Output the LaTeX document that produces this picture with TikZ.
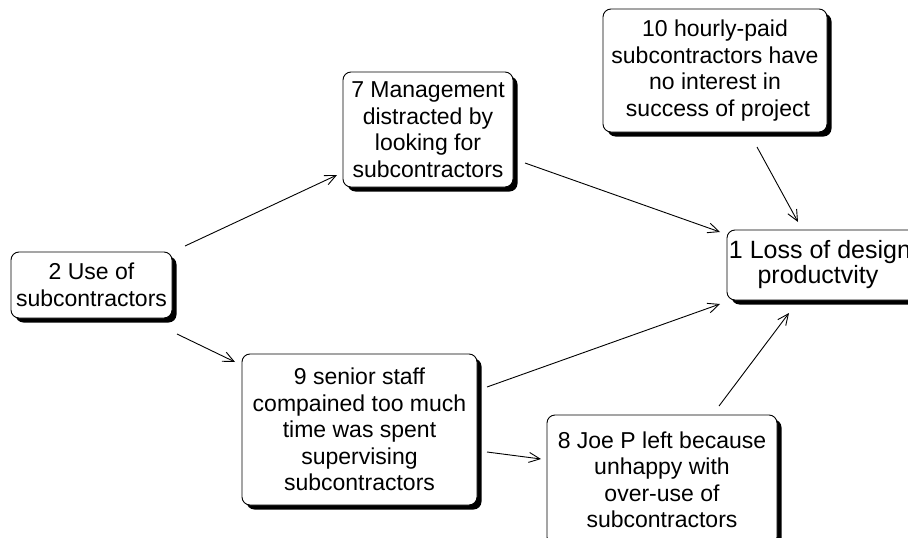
\documentclass[tikz,border=0pt]{standalone}
\usepackage{fontspec}
\setmainfont{Liberation Sans}
\usetikzlibrary{arrows.meta,shadows,calc}
\tikzset{
  cbox/.style={draw=black, line width=0.9pt, rounded corners=8pt, fill=white,
    align=center, inner sep=0pt, outer sep=0pt,
    font=\fontsize{23}{26.5}\selectfont,
    drop shadow={shadow xshift=4.5pt, shadow yshift=-4.5pt, fill=black, opacity=1}},
  link/.style={draw=black, line width=0.9pt, -{Straight Barb[length=11pt,width=10pt,line width=0.9pt]}}
}
\begin{document}
\begin{tikzpicture}[x=1pt,y=-1pt]
\useasboundingbox (0,0) rectangle (908,538);
\clip (0,0) rectangle (908,538);
\node[cbox, minimum width=161pt, minimum height=66pt] (n2) at (91.5,285) {2 Use of\\subcontractors};
\node[cbox, minimum width=170pt, minimum height=115pt] (n7) at (428,129.5) {7 Management\\distracted by\\looking for\\subcontractors};
\node[cbox, minimum width=224pt, minimum height=123pt] (n10) at (715,70.5) {10 hourly-paid\\subcontractors have\\no interest in\\\hspace{6pt}success of project};
\node[cbox, minimum width=190pt, minimum height=70pt, font=\fontsize{25}{25}\selectfont] (n1) at (822,265) {\hspace*{-4pt}1 Loss of design\\\hspace*{-8pt}productvity};
\node[cbox, minimum width=235pt, minimum height=151pt] (n9) at (359.5,429.5) {9 senior staff\\compained too much\\time was spent\\supervising\\subcontractors};
\node[cbox, minimum width=230pt, minimum height=130pt] (n8) at (662,480) {8 Joe P left because\\unhappy with\\over-use of\\subcontractors};
\draw[link] ($(n2.north east)+(13,-6)$) -- ($(n7.south west)+(-6,-12)$);
\draw[link] ($(n2.south east)+(5,16)$) -- ($(n9.north west)+(-7,8)$);
\draw[link] ($(n7.south east)+(12,-24)$) -- ($(n1.north west)+(-7,2)$);
\draw[link] ($(n10.south)+(42,15)$) -- ($(n1.north)+(-24,-8)$);
\draw[link] ($(n9.north east)+(10,33)$) -- ($(n1.south west)+(-7,4)$);
\draw[link] ($(n9.east)+(10,22.5)$) -- ($(n8.west)+(-6,-21)$);
\draw[link] ($(n8.north)+(57,-9)$) -- ($(n1.south)+(-33,13)$);
\end{tikzpicture}
\end{document}
